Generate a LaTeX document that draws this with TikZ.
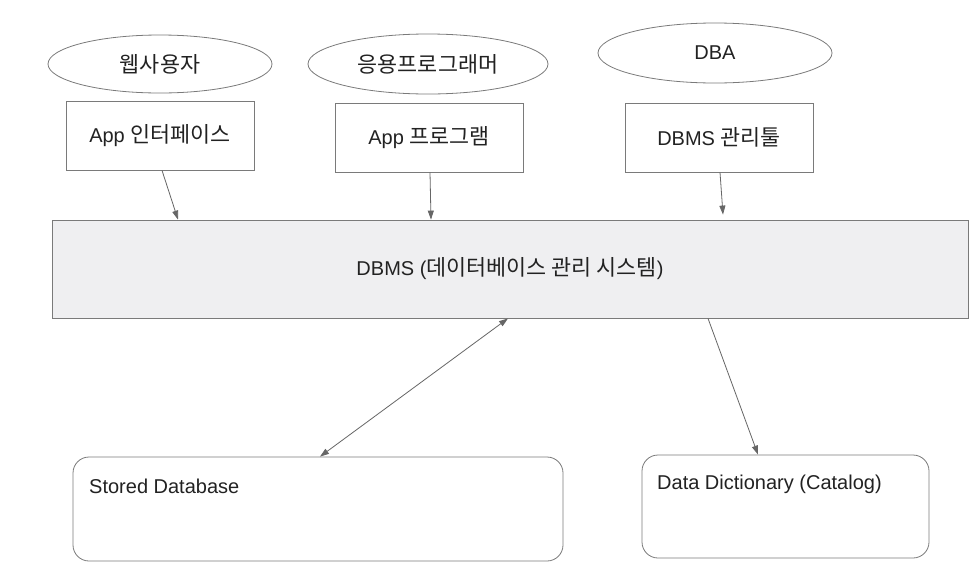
\documentclass[tikz,border=0pt]{standalone}
\usepackage{fontspec}
\setmainfont{Liberation Sans}
\newfontfamily\kr[Scale=1.09]{Noto Sans CJK KR}
\usetikzlibrary{arrows.meta,shapes.geometric,calc}
\definecolor{lineg}{HTML}{666666}
\definecolor{edgeg}{HTML}{7A7A7A}
\definecolor{txt}{HTML}{222222}
\definecolor{dbfill}{HTML}{EFEFF1}
\tikzset{
  every node/.style={font=\fontsize{20}{24}\selectfont, text=txt},
  actor/.style={ellipse, draw=edgeg, line width=0.8pt, inner sep=0pt},
  toolbox/.style={rectangle, draw=edgeg, line width=0.8pt, inner sep=0pt, minimum width=188pt, minimum height=69pt},
  store/.style={rectangle, rounded corners=16pt, draw=edgeg, line width=0.8pt, inner sep=0pt},
  arr/.style={draw=lineg, line width=0.8pt, -{Triangle[length=9pt,width=6pt]}},
  darr/.style={draw=lineg, line width=0.8pt, {Triangle[length=9pt,width=6pt]}-{Triangle[length=9pt,width=6pt]}},
}
\begin{document}
\begin{tikzpicture}[x=1pt,y=-1pt]
\useasboundingbox[fill=white] (0,0) rectangle (979,579);
% actors
\node[actor, minimum width=224pt, minimum height=58pt] (e1) at (160,64) {\kr 웹사용자};
\node[actor, minimum width=240pt, minimum height=60pt] (e2) at (428,64) {\kr 응용프로그래머};
\node[actor, minimum width=234pt, minimum height=60pt] (e3) at (715,53) {DBA};
% tools
\node[toolbox] (r1) at (160,135.5) {App {\kr 인터페이스}};
\node[toolbox] (r2) at (429,137.5) {App {\kr 프로그램}};
\node[toolbox] (r3) at (719,137.5) {DBMS {\kr 관리툴}};
% DBMS
\node[rectangle, draw=edgeg, fill=dbfill, line width=0.8pt, inner sep=0pt, minimum width=916pt, minimum height=98pt] (dbms) at (510,269) {DBMS ({\kr 데이터베이스 관리 시스템})};
% stores
\node[store, minimum width=490pt, minimum height=104pt] (sd) at (318,509) {};
\node[store, minimum width=287pt, minimum height=103pt] (dd) at (785.5,506.5) {};
\node[anchor=west, inner sep=0pt] (sdt) at (89,486) {Stored Database};
\node[anchor=west, inner sep=0pt] (ddt) at (657,484) {Data Dictionary (Catalog)};
% connectors
\draw[arr] ([xshift=2pt]r1.south) -- ([xshift=-332pt]dbms.north);
\draw[arr] ([xshift=1pt]r2.south) -- ([xshift=-79pt]dbms.north);
\draw[arr] ([xshift=1pt]r3.south) -- ([xshift=213pt,yshift=5pt]dbms.north);
\draw[darr] ([xshift=-2pt]dbms.south) -- ([xshift=2pt]sd.north);
\draw[arr] ([xshift=198pt]dbms.south) -- ([xshift=-27.5pt]dd.north);
\end{tikzpicture}
\end{document}
